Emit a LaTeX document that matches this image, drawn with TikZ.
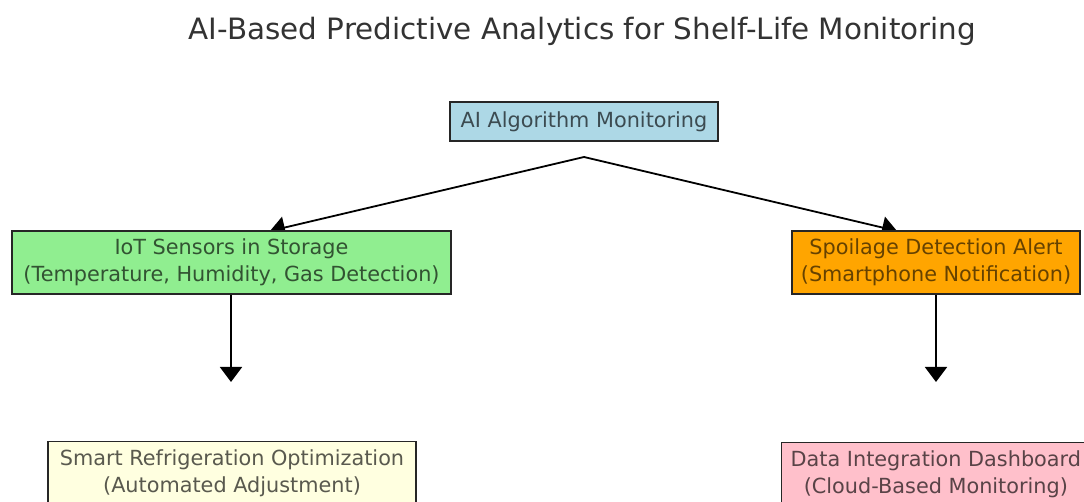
\documentclass[tikz,border=0pt]{standalone}
\usepackage{fontspec}
\setmainfont{DejaVu Sans}
\usetikzlibrary{arrows.meta}
\pgfdeclarelayer{background}
\pgfsetlayers{background,main}
\definecolor{cblue}{RGB}{173,216,230}
\definecolor{cgreen}{RGB}{144,238,144}
\definecolor{corange}{RGB}{255,165,0}
\definecolor{cyellow}{RGB}{255,255,224}
\definecolor{cpink}{RGB}{255,192,203}
\tikzset{
  box/.style={draw=black!85, line width=1.4pt, align=center, inner xsep=9pt,
    font=\fontsize{20.8}{27.5}\selectfont},
  onebox/.style={box, minimum height=39pt},
  twobox/.style={box, minimum height=63pt},
  arr/.style={line width=1.8pt, black, -{Triangle[length=15pt,width=22pt]}},
}
\begin{document}
\begin{tikzpicture}[x=1pt,y=-1pt]
\useasboundingbox (0,0) rectangle (1084,502);
\clip (0,0) rectangle (1084,502);
\node[anchor=base, text=black!80, font=\fontsize{29.4}{34}\selectfont] (title) at (582.5,40) {AI-Based Predictive Analytics for Shelf-Life Monitoring};
\node[onebox, fill=cblue, text=black!65!cblue, minimum width=268pt] (ai) at (584,121.5) {AI Algorithm Monitoring};
\node[twobox, fill=cgreen, text=black!65!cgreen, minimum width=439pt] (iot) at (231.5,262.5) {IoT Sensors in Storage\\(Temperature, Humidity, Gas Detection)};
\node[twobox, fill=corange, text=black!60!corange, minimum width=288pt] (spoil) at (936,262.5) {Spoilage Detection Alert\\(Smartphone Notification)};
\node[twobox, fill=cyellow, text=black!65!cyellow, minimum width=368pt, anchor=north] (fridge) at (232,441) {Smart Refrigeration Optimization\\(Automated Adjustment)};
\node[twobox, fill=cpink, text=black!65!cpink, minimum width=306pt, anchor=north west] (dash) at (781,442) {Data Integration Dashboard\\(Cloud-Based Monitoring)};
\coordinate (apex) at (584,157);
\coordinate (iotin) at (270,231);
\coordinate (spoilin) at (897,231);
\coordinate (iotout) at (231,382);
\coordinate (spoilout) at (936,382);
\begin{pgfonlayer}{background}
\draw[arr] (apex) -- (iotin);
\draw[arr] (apex) -- (spoilin);
\end{pgfonlayer}
\draw[arr] (iot.south -| iotout) -- (iotout);
\draw[arr] (spoil.south -| spoilout) -- (spoilout);
\end{tikzpicture}
\end{document}
